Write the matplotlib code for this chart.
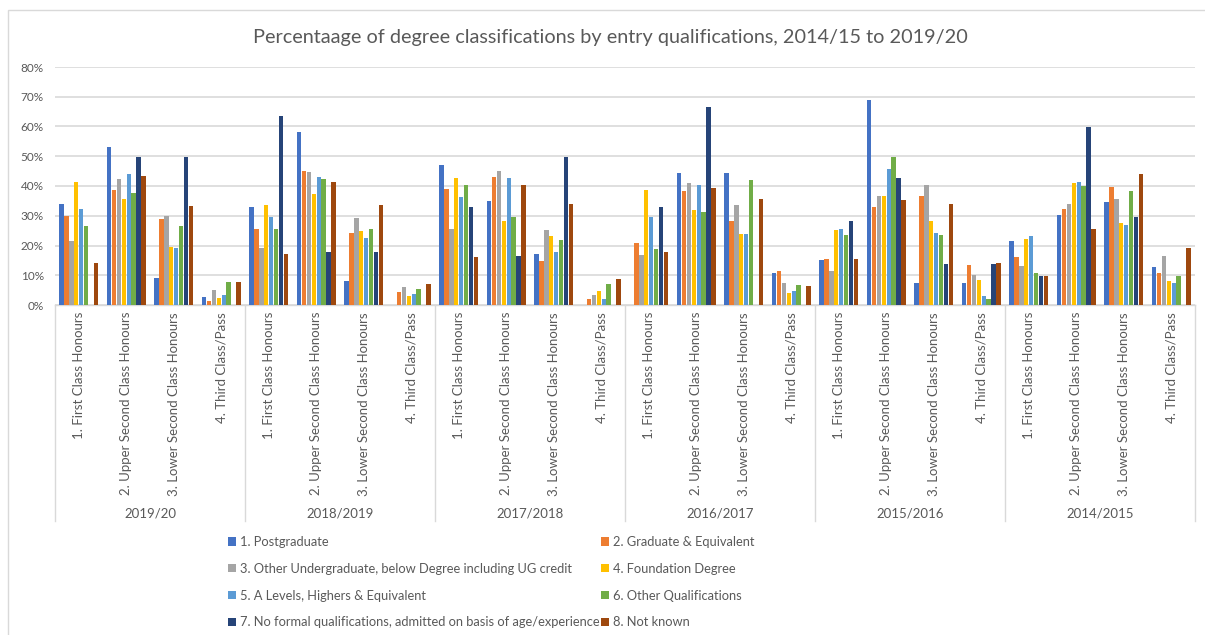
import matplotlib
matplotlib.use("Agg")
import matplotlib.pyplot as plt
from matplotlib.patches import Rectangle, Patch
import matplotlib.transforms as mtransforms
import numpy as np

plt.rcParams['font.family'] = ['Lato', 'DejaVu Sans']

years = ["2019/20", "2018/2019", "2017/2018", "2016/2017", "2015/2016", "2014/2015"]
classes = ["1. First Class Honours", "2. Upper Second Class Honours",
           "3. Lower Second Class Honours", "4. Third Class/Pass"]
series_names = ["1. Postgraduate", "2. Graduate & Equivalent",
                "3. Other Undergraduate, below Degree including UG credit",
                "4. Foundation Degree", "5. A Levels, Highers & Equivalent",
                "6. Other Qualifications",
                "7. No formal qualifications, admitted on basis of age/experience",
                "8. Not known"]
colors = ["#4472C4", "#ED7D31", "#A5A5A5", "#FFC000", "#5B9BD5", "#70AD47", "#264478", "#9E480E"]

# values (%) per series, ordered year by year, 4 classes each
postgraduate = [34.0, 53.0, 9.1, 2.7,   33.0, 58.3, 8.1, 0,     46.9, 35.0, 17.2, 0,
                0, 44.3, 44.3, 10.8,    15.1, 69.0, 7.3, 7.3,   21.5, 30.1, 34.6, 12.7]
graduate = [30.0, 38.6, 29.0, 1.4,      25.5, 45.1, 24.1, 4.5,  38.9, 43.0, 14.9, 1.9,
            20.7, 38.3, 28.2, 11.4,     15.4, 33.0, 36.8, 13.4, 16.0, 32.2, 39.8, 10.8]
other_ug = [21.6, 42.5, 30.0, 5.1,      19.3, 44.7, 29.2, 5.9,  25.5, 45.1, 25.1, 3.5,
            16.9, 40.9, 33.5, 7.5,      11.3, 36.5, 40.3, 10.0, 13.0, 33.8, 35.5, 16.6]
foundation = [41.4, 35.6, 19.6, 2.4,    33.5, 37.3, 24.9, 3.0,  42.7, 28.2, 23.3, 4.7,
              38.6, 31.9, 24.0, 3.9,    25.1, 36.5, 28.4, 8.5,  22.1, 40.9, 27.7, 8.0]
a_levels = [32.2, 44.1, 19.3, 3.3,      29.5, 42.9, 22.6, 3.7,  36.4, 42.7, 17.9, 1.9,
            29.6, 40.2, 24.0, 4.7,      25.7, 45.7, 24.3, 3.0,  23.3, 41.4, 26.9, 7.3]
other_q = [26.6, 37.6, 26.6, 7.8,       25.7, 42.5, 25.7, 5.3,  40.5, 29.5, 21.7, 7.1,
           18.9, 31.1, 41.9, 6.8,       23.5, 49.8, 23.5, 1.9,  10.8, 40.1, 38.4, 9.7]
no_formal = [0, 49.8, 49.8, 0,          63.4, 17.9, 17.9, 0,    33.0, 16.6, 49.8, 0,
             33.0, 66.5, 0, 0,          28.2, 42.7, 13.9, 13.9, 9.7, 59.8, 29.6, 0]
not_known = [14.2, 43.5, 33.2, 7.8,     17.2, 41.2, 33.6, 7.1,  16.0, 40.2, 34.0, 8.6,
             17.7, 39.4, 35.6, 6.3,     15.4, 35.3, 33.8, 14.2, 9.8, 25.7, 44.1, 19.3]

all_series = [postgraduate, graduate, other_ug, foundation, a_levels, other_q, no_formal, not_known]

W, H = 1205, 635
fig = plt.figure(figsize=(W / 100, H / 100), dpi=100)

# chart frame
fig.patches.append(Rectangle((8 / W, -0.01), 1.0, 1 - 10 / H + 0.01, transform=fig.transFigure,
                             fill=False, edgecolor="#D9D9D9", linewidth=1.0))

ax = fig.add_axes([55 / W, 1 - 305 / H, 1140 / W, 238 / H])
n_cat = len(years) * len(classes)
x = np.arange(n_cat)
pitch = 0.103
for i, (vals, c) in enumerate(zip(all_series, colors)):
    ax.bar(x + (i - 3.5) * pitch, np.array(vals) / 100.0, width=pitch * 0.88,
           color=c, edgecolor="none", zorder=3, label=series_names[i])

ax.set_xlim(-0.5, n_cat - 0.5)
ax.set_ylim(0, 0.8)
ax.set_yticks(np.arange(0, 0.81, 0.1))
ax.set_yticklabels([f"{int(round(v * 100))}%" for v in np.arange(0, 0.81, 0.1)])
ax.yaxis.grid(True, color="#D9D9D9", linewidth=1.2, zorder=0)
ax.set_axisbelow(True)
for s in ["top", "right", "left"]:
    ax.spines[s].set_visible(False)
ax.spines["bottom"].set_color("#D9D9D9")
ax.spines["bottom"].set_linewidth(1.0)
ax.tick_params(axis="y", length=0, pad=8, labelsize=8.5, labelcolor="#595959")
ax.set_xticks(x)
ax.set_xticklabels(classes * len(years), rotation=90, va="top", ha="center")
ax.tick_params(axis="x", length=0, pad=5, labelsize=9.5, labelcolor="#595959")

trans = mtransforms.blended_transform_factory(ax.transData, ax.transAxes)
for k in range(len(years) + 1):
    xs = k * 4 - 0.5
    ax.plot([xs, xs], [0, -216 / 238], transform=trans, color="#D9D9D9",
            linewidth=1.0, clip_on=False)
for k, yname in enumerate(years):
    ax.text(k * 4 + 1.5, -208 / 238, yname, transform=trans, ha="center", va="center",
            fontsize=9.5, color="#595959")

fig.text(610 / W, 1 - 38 / H, "Percentaage of degree classifications by entry qualifications, 2014/15 to 2019/20",
         ha="center", va="center", fontsize=14.3, color="#595959")

handles = [Patch(facecolor=c, edgecolor="none") for c in colors]
order = [0, 2, 4, 6, 1, 3, 5, 7]
leg = fig.legend([handles[i] for i in order], [series_names[i] for i in order],
                 loc="upper left", bbox_to_anchor=(228 / W, 1 - 536 / H), ncol=2,
                 frameon=False, fontsize=9.25, handlelength=0.6, handleheight=0.6,
                 handletextpad=0.3, columnspacing=0.15, labelspacing=1.15, borderpad=0,
                 borderaxespad=0)
for t in leg.get_texts():
    t.set_color("#595959")

fig.savefig("out.png", dpi=100)
